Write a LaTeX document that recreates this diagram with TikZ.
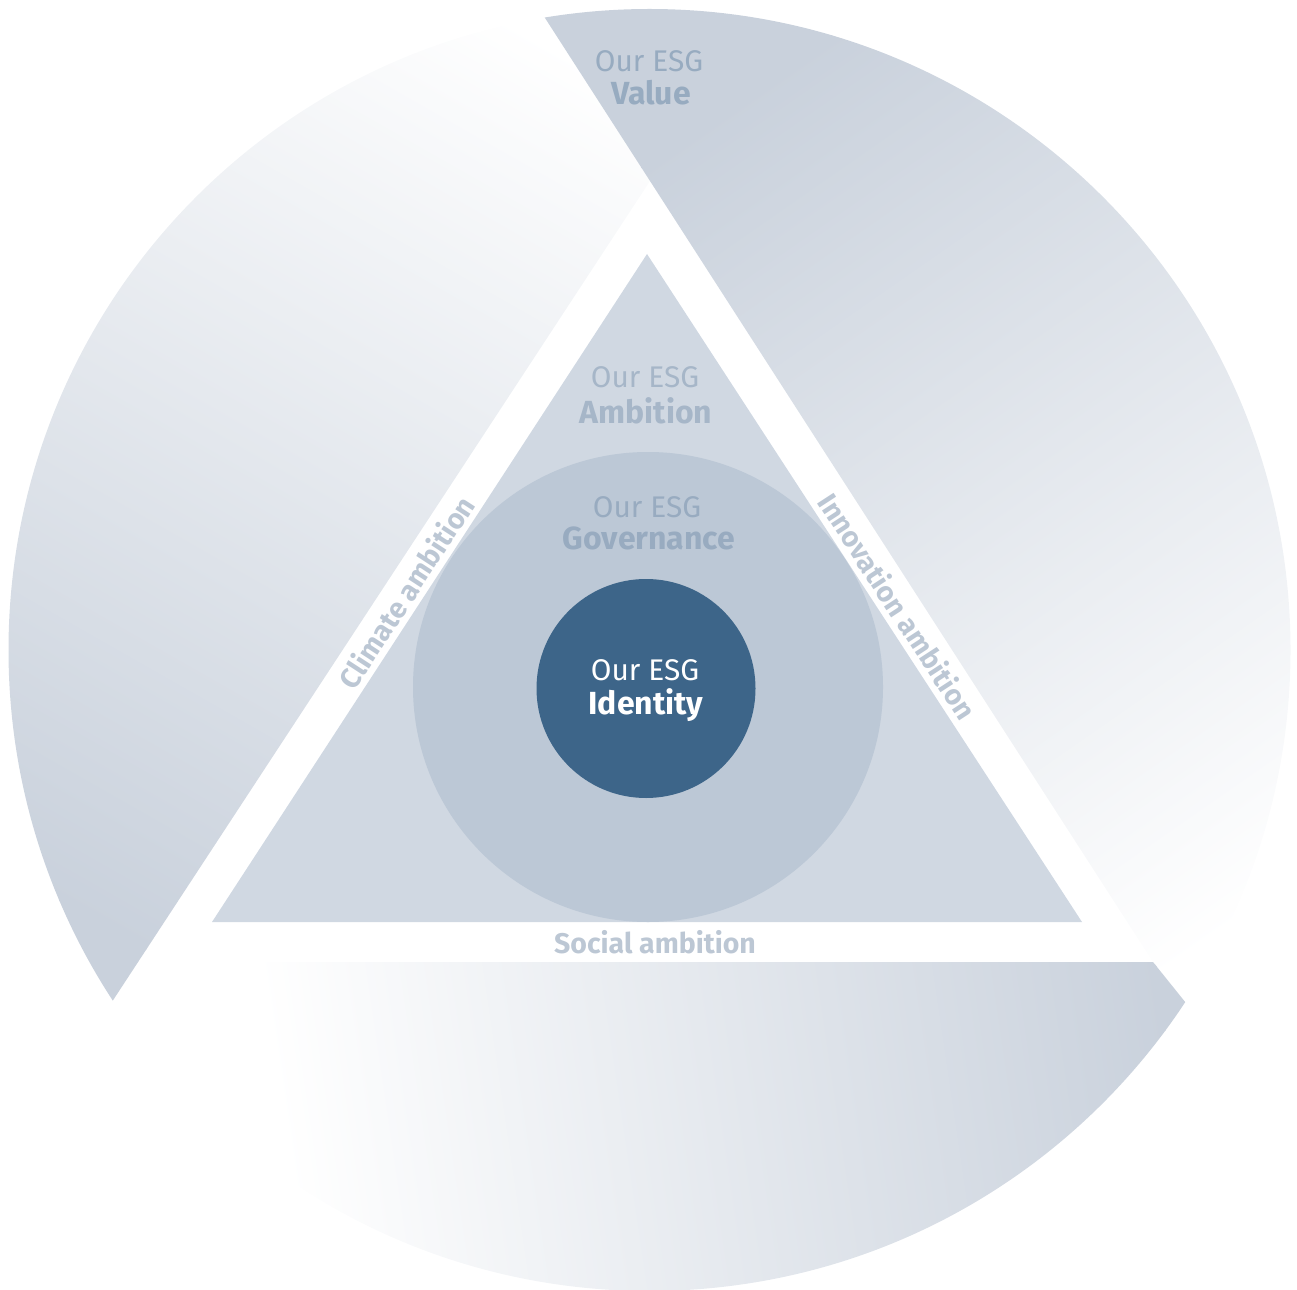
\documentclass[tikz,border=0pt]{standalone}
\usepackage{fontspec}
\setmainfont{Fira Sans}
\definecolor{segdark}{HTML}{C9D1DC}
\definecolor{tri}{HTML}{D0D8E2}
\definecolor{midc}{HTML}{BCC8D6}
\definecolor{core}{HTML}{3D6589}
\definecolor{valtxt}{HTML}{97ABC0}
\definecolor{ambtxt}{HTML}{A6B6C8}
\definecolor{govtxt}{HTML}{98ABC0}
\definecolor{bandtxt}{HTML}{BCC7D4}
\newcommand\segshade[5]{%
  \pgfmathsetmacro\gA{atan2(-(#4-#2),#3-#1)}%
  \pgfmathsetmacro\gD{veclen(#3-#1,#4-#2)}%
  \pgfmathsetmacro\gMx{(#1+#3)/2}%
  \pgfmathsetmacro\gMy{(#2+#4)/2}%
  \begin{scope}[transform canvas={rotate around={\gA:(\gMx,\gMy)}}]
    \fill[#5] (\gMx-3000,\gMy-3000) rectangle (\gMx-\gD/2+1,\gMy+3000);
    \shade[left color=#5,right color=white] (\gMx-\gD/2,\gMy-3000) rectangle (\gMx+\gD/2,\gMy+3000);
  \end{scope}}
\begin{document}
\begin{tikzpicture}[x=0.02cm,y=-0.02cm,
  esg/.style={font=\fontsize{17}{20}\selectfont, inner sep=0pt, anchor=base},
  esgb/.style={font=\fontsize{18.2}{20}\selectfont\bfseries, inner sep=0pt, anchor=base},
  bandlbl/.style={font=\fontsize{16.2}{18}\selectfont\bfseries, text=bandtxt, inner sep=0pt}]
\useasboundingbox (0,0) rectangle (1297,1290);
\coordinate (C) at (649.5,650);
% left segment (Climate side)
\begin{scope}
  \clip (C) circle[radius=641];
  \clip (650,181) -- (469,-100) -- (-300,-100) -- (-300,1500) -- (-149,1400) -- cycle;
  \segshade{110}{930}{600}{70}{segdark}
\end{scope}
% top-right segment (Value)
\begin{scope}
  \clip (C) circle[radius=641];
  \clip (650,181) -- (469,-100) -- (1600,-100) -- (1600,1400) -- (1505,1400) -- (1153,962) -- cycle;
  \segshade{680}{140}{1230}{930}{segdark}
\end{scope}
% bottom segment (Social side)
\begin{scope}
  \clip (C) circle[radius=641];
  \clip (138,962) -- (1153,962) -- (1505,1400) -- (-149,1400) -- cycle;
  \segshade{1160}{990}{280}{1120}{segdark}
\end{scope}
% inner triangle
\fill[tri] (647,254) -- (212,922) -- (1082,922) -- cycle;
\begin{scope}
  \clip (647,254) -- (212,922) -- (1082,922) -- cycle;
  \fill[midc] (648,687) circle[radius=235];
\end{scope}
\fill[core] (646,688.5) circle[radius=109.5];
% texts
\node[esg, text=valtxt] (valA) at (649,72) {Our ESG};
\node[esgb, text=valtxt] (valB) at (651,105) {Value};
\node[esg, text=ambtxt] (ambA) at (645,388) {Our ESG};
\node[esgb, text=ambtxt] (ambB) at (646,423) {Ambition};
\node[esg, text=govtxt] (govA) at (647,517) {Our ESG};
\node[esgb, text=govtxt] (govB) at (649,549) {Governance};
\node[esg, text=white] (idA) at (645,680) {Our ESG};
\node[esgb, text=white] (idB) at (646,714) {Identity};
\node[bandlbl, rotate=56.9] (climate) at (406,592) {Climate ambition};
\node[bandlbl, rotate=-56.9] (innov) at (898,606) {Innovation ambition};
\node[bandlbl] (social) at (655,942) {Social ambition};
\end{tikzpicture}
\end{document}
